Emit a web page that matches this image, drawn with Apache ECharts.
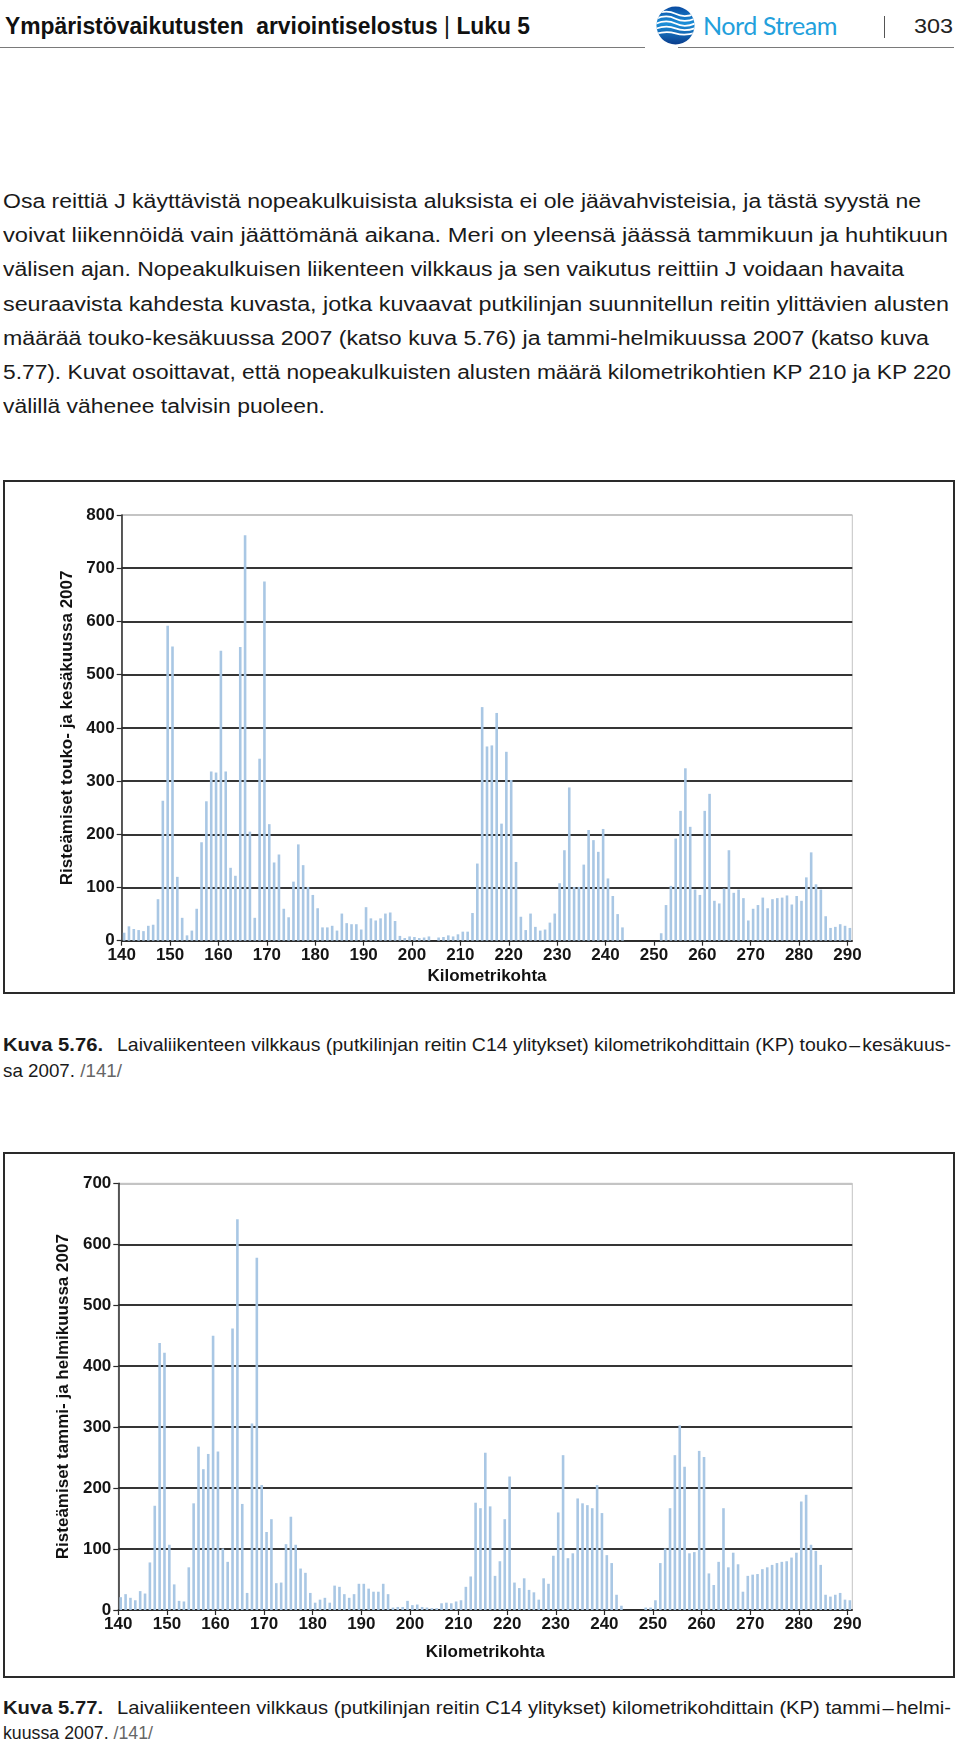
<!DOCTYPE html>
<html><head><meta charset="utf-8">
<script src="https://cdn.jsdelivr.net/npm/echarts/dist/echarts.min.js"></script>
<style>
html,body{margin:0;padding:0;background:#fff;}
body{width:960px;height:1745px;position:relative;overflow:hidden;font-family:"Liberation Sans",Arial,sans-serif;color:#111;}
.t{position:absolute;white-space:nowrap;transform-origin:0 50%;line-height:24px;height:24px;}
.body{font-size:20px;color:#1a1a1a;}
.cap{font-size:18.5px;color:#1a1a1a;}
.frame{position:absolute;border:2px solid #2a2a2a;box-sizing:border-box;}
#chart{position:absolute;left:0;top:0;width:960px;height:1745px;z-index:2;}
</style></head>
<body>
<div class="t" data-w="525" style="left:5px;top:14px;font-size:23px;font-weight:bold;color:#111;">Ympäristövaikutusten&nbsp; arviointiselostus <span style="font-weight:normal">|</span> Luku 5</div>
<div style="position:absolute;left:0;top:47px;width:645px;height:0;border-top:1.5px solid #7a7a7a;"></div>
<div style="position:absolute;left:678px;top:47px;width:276px;height:0;border-top:1.5px solid #7a7a7a;"></div>
<svg style="position:absolute;left:656px;top:6px" width="39" height="39" viewBox="0 0 40 40">
<defs><linearGradient id="g" x1="0" y1="0" x2="0" y2="1"><stop offset="0" stop-color="#0a4aa0"/><stop offset="0.45" stop-color="#1c8fd8"/><stop offset="1" stop-color="#0a3c8c"/></linearGradient><clipPath id="c"><circle cx="20" cy="20" r="19.5"/></clipPath></defs>
<circle cx="20" cy="20" r="19.5" fill="url(#g)"/>
<g clip-path="url(#c)" stroke="#fff" fill="none" stroke-width="1.8">
<path d="M-2 9 Q10 3 20 8 T42 7"/><path d="M-2 14 Q10 8 20 13 T42 12"/><path d="M-2 19 Q10 13 20 18 T42 17"/><path d="M-2 24 Q10 19 20 23 T42 22"/><path d="M-2 29 Q10 25 20 28 T42 27"/>
</g></svg>
<div class="t" data-w="134" style="left:703px;top:13px;font-size:25px;font-family:Lato,'Open Sans',sans-serif;font-weight:400;color:#23a0dc;letter-spacing:-0.5px;">Nord Stream</div>
<div style="position:absolute;left:884px;top:16px;width:0;height:22px;border-left:1px solid #555;"></div>
<div class="t" data-w="39" style="left:914px;top:14px;font-size:21px;color:#222;">303</div>

<div class="t body" data-w="918" style="left:3px;top:189px;">Osa reittiä J käyttävistä nopeakulkuisista aluksista ei ole jäävahvisteisia, ja tästä syystä ne</div>
<div class="t body" data-w="945" style="left:3px;top:223px;">voivat liikennöidä vain jäättömänä aikana. Meri on yleensä jäässä tammikuun ja huhtikuun</div>
<div class="t body" data-w="901" style="left:3px;top:257px;">välisen ajan. Nopeakulkuisen liikenteen vilkkaus ja sen vaikutus reittiin J voidaan havaita</div>
<div class="t body" data-w="946" style="left:3px;top:292px;">seuraavista kahdesta kuvasta, jotka kuvaavat putkilinjan suunnitellun reitin ylittävien alusten</div>
<div class="t body" data-w="926" style="left:3px;top:326px;">määrää touko-kesäkuussa 2007 (katso kuva 5.76) ja tammi-helmikuussa 2007 (katso kuva</div>
<div class="t body" data-w="948" style="left:3px;top:360px;">5.77). Kuvat osoittavat, että nopeakulkuisten alusten määrä kilometrikohtien KP 210 ja KP 220</div>
<div class="t body" data-w="322" style="left:3px;top:394px;">välillä vähenee talvisin puoleen.</div>

<div class="frame" style="left:3px;top:480px;width:952px;height:514px;"></div>
<div class="frame" style="left:3px;top:1152px;width:952px;height:526px;"></div>

<div class="t cap" data-w="100" style="left:3px;top:1033px;font-weight:bold;">Kuva 5.76.</div>
<div class="t cap" data-w="834" style="left:117px;top:1033px;">Laivaliikenteen vilkkaus (putkilinjan reitin C14 ylitykset) kilometrikohdittain (KP) touko<span style="padding:0 2px">–</span>kesäkuus-</div>
<div class="t cap" data-w="119" style="left:3px;top:1059px;">sa 2007. <span style="color:#666">/141/</span></div>
<div class="t cap" data-w="100" style="left:3px;top:1696px;font-weight:bold;">Kuva 5.77.</div>
<div class="t cap" data-w="834" style="left:117px;top:1696px;">Laivaliikenteen vilkkaus (putkilinjan reitin C14 ylitykset) kilometrikohdittain (KP) tammi<span style="padding:0 2px">–</span>helmi-</div>
<div class="t cap" data-w="150" style="left:3px;top:1721px;">kuussa 2007. <span style="color:#666">/141/</span></div>

<div id="chart"></div>
<script>
// ---- data ----
const kmStart = 140.5; // first bar position (km), one bar per km
const xTickValues = [140,150,160,170,180,190,200,210,220,230,240,250,260,270,280,290];
const yTicks1 = [0,100,200,300,400,500,600,700,800];
const yTicks2 = [0,100,200,300,400,500,600,700];
const xAxisName = 'Kilometrikohta';
const yName1 = 'Risteämiset touko- ja kesäkuussa 2007';
const yName2 = 'Risteämiset tammi- ja helmikuussa 2007';
// touko-kesäkuu 2007, km 140.5 ... 290.5
const mayJune = [
 15,27,22,20,18,28,30,78,263,592,
 553,120,43,10,19,60,185,262,318,316,
 545,318,137,122,552,762,205,43,342,675,
 219,147,162,60,44,111,181,142,101,86,
 61,25,25,28,19,51,33,31,31,21,
 63,42,38,42,51,53,37,9,5,8,
 7,5,6,8,0,6,7,10,8,12,
 17,17,52,145,439,365,367,428,220,355,
 302,148,45,20,51,26,19,21,34,51,
 108,170,288,101,101,143,208,189,167,210,
 117,84,50,25,0,0,0,0,0,0,
 0,14,67,103,192,244,324,214,96,86,
 244,276,75,70,98,170,90,96,80,38,
 60,67,81,61,78,80,81,85,68,84,
 75,119,166,106,96,46,24,26,31,28,24
];
// tammi-helmikuu 2007, km 140.5 ... 290.5
const janFeb = [
 21,26,20,16,31,27,78,171,438,422,
 107,42,15,14,70,175,268,231,256,450,
 260,101,79,462,641,174,28,306,578,205,
 128,149,44,45,108,153,107,68,61,28,
 12,17,20,12,40,38,26,20,26,43,
 43,35,30,30,43,26,4,5,5,15,
 8,9,5,4,3,3,11,12,11,14,
 16,38,55,176,167,258,170,56,80,149,
 219,45,36,52,33,29,17,52,43,89,
 160,254,85,93,183,175,172,167,205,159,
 90,77,25,7,0,0,0,0,4,4,
 16,77,101,167,254,303,235,93,95,261,
 251,60,41,79,167,70,94,75,30,56,
 58,59,67,70,74,77,79,80,86,94,
 178,189,107,97,74,25,22,25,28,17,16
];

// ---- fit text widths ----
document.querySelectorAll('[data-w]').forEach(el=>{
  const w = el.getBoundingClientRect().width;
  const target = +el.getAttribute('data-w');
  if (w>0) el.style.transform = 'scaleX(' + (target/w) + ')';
});

const pairs = vals => vals.map((v,i)=>[kmStart+i, v]);
const FONT = '"Liberation Sans", Arial, sans-serif';
const BAR = '#a9c7e4';
function splitColors(n){ const a=[]; for(let i=0;i<n-1;i++) a.push('#353535'); a.push('#c4c4c4'); return a; }
function xAxis(gi, gap){
  return {type:'value', gridIndex:gi, min:xTickValues[0], max:xTickValues[xTickValues.length-1]+1, interval:10,
    name:xAxisName, nameLocation:'middle', nameGap:gap,
    nameTextStyle:{fontFamily:FONT,fontWeight:'bold',fontSize:17,color:'#111'},
    axisLine:{show:true,lineStyle:{color:'#2a2a2a',width:1.5}},
    axisTick:{show:true,length:5,lineStyle:{color:'#2a2a2a',width:1.2},customValues:xTickValues},
    axisLabel:{fontFamily:FONT,fontWeight:'bold',fontSize:17,color:'#151515',margin:6,customValues:xTickValues},
    splitLine:{show:false}};
}
function yAxis(gi, ticks, name, gap){
  return {type:'value', gridIndex:gi, min:0, max:ticks[ticks.length-1], interval:100,
    name:name, nameLocation:'middle', nameRotate:90, nameGap:gap,
    nameTextStyle:{fontFamily:FONT,fontWeight:'bold',fontSize:17,color:'#111'},
    axisLine:{show:true,lineStyle:{color:'#2a2a2a',width:1.5}},
    axisTick:{show:true,length:5,lineStyle:{color:'#2a2a2a',width:1.2}},
    axisLabel:{fontFamily:FONT,fontWeight:'bold',fontSize:17,color:'#151515',margin:7},
    splitLine:{show:true,lineStyle:{color:splitColors(ticks.length),width:1.8}}};
}
const chart = echarts.init(document.getElementById('chart'), null, {renderer:'canvas'});
chart.setOption({
  animation:false,
  grid:[
    {left:121.7, top:515, width:730.6, height:425.7, show:true, borderColor:'#c4c4c4', borderWidth:1, backgroundColor:'transparent'},
    {left:118.3, top:1183.3, width:734, height:426.7, show:true, borderColor:'#c4c4c4', borderWidth:1, backgroundColor:'transparent'}
  ],
  xAxis:[xAxis(0,27), xAxis(1,34)],
  yAxis:[yAxis(0,yTicks1,yName1,37), yAxis(1,yTicks2,yName2,39)],
  series:[
    {type:'bar', xAxisIndex:0, yAxisIndex:0, data:pairs(mayJune), barWidth:2.6, itemStyle:{color:BAR}, silent:true},
    {type:'bar', xAxisIndex:1, yAxisIndex:1, data:pairs(janFeb), barWidth:2.6, itemStyle:{color:BAR}, silent:true}
  ]
});
</script>
</body></html>
